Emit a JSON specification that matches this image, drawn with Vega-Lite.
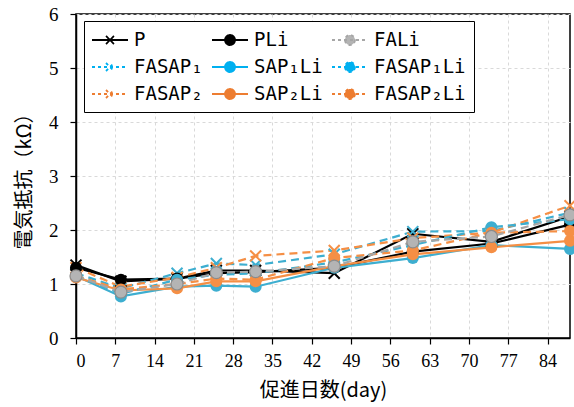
{
  "$schema": "https://vega.github.io/schema/vega-lite/v6.json",
  "width": 494,
  "height": 324,
  "autosize": "none",
  "padding": {"left": 76, "top": 14, "right": 4, "bottom": 69},
  "background": "white",
  "config": {
    "view": {"stroke": "#000000", "strokeWidth": 1.5},
    "axis": {
      "domainColor": "#000000", "domainWidth": 1.5, "tickColor": "#000000", "tickWidth": 1.2, "tickSize": 6,
      "gridColor": "#D9D9D9", "gridDash": [3, 3], "gridWidth": 1,
      "labelFont": "Liberation Sans Narrow", "labelFontSize": 19, "labelColor": "#000000",
      "titleFont": "Noto Sans CJK JP", "titleFontSize": 20, "titleFontWeight": "normal", "titleColor": "#000000"
    },
    "legend": {
      "orient": "none", "legendX": 8, "legendY": 7, "columns": 3, "title": null,
      "strokeColor": "#000000", "fillColor": "#FFFFFF", "padding": 8,
      "symbolSize": 400, "symbolStrokeWidth": 1.8, "columnPadding": 5, "rowPadding": 6,
      "labelFont": "DejaVu Sans Mono", "labelFontSize": 19, "labelColor": "#000000", "labelOffset": 20
    }
  },
  "data": {
    "values": [
      {"series": "P", "day": 0, "v": 1.35}, {"series": "P", "day": 8, "v": 1.05}, {"series": "P", "day": 18, "v": 1.1}, {"series": "P", "day": 25, "v": 1.25}, {"series": "P", "day": 32, "v": 1.25}, {"series": "P", "day": 46, "v": 1.2}, {"series": "P", "day": 60, "v": 1.93}, {"series": "P", "day": 74, "v": 1.78}, {"series": "P", "day": 88, "v": 2.25},
      {"series": "FASAP₁", "day": 0, "v": 1.2}, {"series": "FASAP₁", "day": 8, "v": 0.92}, {"series": "FASAP₁", "day": 18, "v": 1.2}, {"series": "FASAP₁", "day": 25, "v": 1.38}, {"series": "FASAP₁", "day": 32, "v": 1.35}, {"series": "FASAP₁", "day": 46, "v": 1.55}, {"series": "FASAP₁", "day": 60, "v": 1.97}, {"series": "FASAP₁", "day": 74, "v": 1.98}, {"series": "FASAP₁", "day": 88, "v": 2.32},
      {"series": "FASAP₂", "day": 0, "v": 1.3}, {"series": "FASAP₂", "day": 8, "v": 0.95}, {"series": "FASAP₂", "day": 18, "v": 1.12}, {"series": "FASAP₂", "day": 25, "v": 1.3}, {"series": "FASAP₂", "day": 32, "v": 1.52}, {"series": "FASAP₂", "day": 46, "v": 1.62}, {"series": "FASAP₂", "day": 60, "v": 1.85}, {"series": "FASAP₂", "day": 74, "v": 1.95}, {"series": "FASAP₂", "day": 88, "v": 2.45},
      {"series": "PLi", "day": 0, "v": 1.3}, {"series": "PLi", "day": 8, "v": 1.08}, {"series": "PLi", "day": 18, "v": 1.1}, {"series": "PLi", "day": 25, "v": 1.2}, {"series": "PLi", "day": 32, "v": 1.22}, {"series": "PLi", "day": 46, "v": 1.3}, {"series": "PLi", "day": 60, "v": 1.6}, {"series": "PLi", "day": 74, "v": 1.75}, {"series": "PLi", "day": 88, "v": 2.1},
      {"series": "SAP₁Li", "day": 0, "v": 1.15}, {"series": "SAP₁Li", "day": 8, "v": 0.77}, {"series": "SAP₁Li", "day": 18, "v": 0.95}, {"series": "SAP₁Li", "day": 25, "v": 0.97}, {"series": "SAP₁Li", "day": 32, "v": 0.95}, {"series": "SAP₁Li", "day": 46, "v": 1.3}, {"series": "SAP₁Li", "day": 60, "v": 1.48}, {"series": "SAP₁Li", "day": 74, "v": 1.72}, {"series": "SAP₁Li", "day": 88, "v": 1.65},
      {"series": "SAP₂Li", "day": 0, "v": 1.12}, {"series": "SAP₂Li", "day": 8, "v": 0.88}, {"series": "SAP₂Li", "day": 18, "v": 0.92}, {"series": "SAP₂Li", "day": 25, "v": 1.05}, {"series": "SAP₂Li", "day": 32, "v": 1.05}, {"series": "SAP₂Li", "day": 46, "v": 1.33}, {"series": "SAP₂Li", "day": 60, "v": 1.55}, {"series": "SAP₂Li", "day": 74, "v": 1.68}, {"series": "SAP₂Li", "day": 88, "v": 1.8},
      {"series": "FASAP₁Li", "day": 0, "v": 1.15}, {"series": "FASAP₁Li", "day": 8, "v": 0.82}, {"series": "FASAP₁Li", "day": 18, "v": 1.08}, {"series": "FASAP₁Li", "day": 25, "v": 1.17}, {"series": "FASAP₁Li", "day": 32, "v": 1.2}, {"series": "FASAP₁Li", "day": 46, "v": 1.4}, {"series": "FASAP₁Li", "day": 60, "v": 1.72}, {"series": "FASAP₁Li", "day": 74, "v": 2.05}, {"series": "FASAP₁Li", "day": 88, "v": 2.2},
      {"series": "FASAP₂Li", "day": 0, "v": 1.15}, {"series": "FASAP₂Li", "day": 8, "v": 0.9}, {"series": "FASAP₂Li", "day": 18, "v": 1.0}, {"series": "FASAP₂Li", "day": 25, "v": 1.1}, {"series": "FASAP₂Li", "day": 32, "v": 1.08}, {"series": "FASAP₂Li", "day": 46, "v": 1.48}, {"series": "FASAP₂Li", "day": 60, "v": 1.62}, {"series": "FASAP₂Li", "day": 74, "v": 1.95}, {"series": "FASAP₂Li", "day": 88, "v": 1.98},
      {"series": "FALi", "day": 0, "v": 1.15}, {"series": "FALi", "day": 8, "v": 0.85}, {"series": "FALi", "day": 18, "v": 1.0}, {"series": "FALi", "day": 25, "v": 1.21}, {"series": "FALi", "day": 32, "v": 1.23}, {"series": "FALi", "day": 46, "v": 1.33}, {"series": "FALi", "day": 60, "v": 1.78}, {"series": "FALi", "day": 74, "v": 1.88}, {"series": "FALi", "day": 88, "v": 2.28}
    ]
  },
  "encoding": {
    "x": {"field": "day", "type": "quantitative",
      "scale": {"domain": [0, 88], "nice": false, "zero": false},
      "axis": {"values": [0, 7, 14, 21, 28, 35, 42, 49, 56, 63, 70, 77, 84], "title": "促進日数(day)", "labelPadding": 8, "titlePadding": 10, "labelOverlap": false, "labelFontSize": 18}},
    "y": {"field": "v", "type": "quantitative",
      "scale": {"domain": [0, 6], "nice": false},
      "axis": {"values": [0, 1, 2, 3, 4, 5, 6], "title": "電気抵抗（kΩ）", "labelPadding": 12, "titlePadding": 14}}
  },
  "layer": [
    {
      "mark": {"type": "point", "opacity": 0},
      "encoding": {
        "fill": {"field": "series", "type": "nominal",
          "scale": {
            "domain": ["P", "FASAP₁", "FASAP₂", "PLi", "SAP₁Li", "SAP₂Li", "FALi", "FASAP₁Li", "FASAP₂Li"],
            "range": ["#000000", "#00B0F0", "#ED7D31", "#000000", "#00B0F0", "#ED7D31", "#B4B4B4", "#00B0F0", "#ED7D31"]
          },
          "legend": {
            "labelExpr": "datum.label == 'PLi' ? '\u00a0\u00a0PLi' : datum.label",
            "encode": {"symbols": {"update": {"opacity": {"value": 1}}}}}},
        "stroke": {"field": "series", "type": "nominal",
          "scale": {
            "domain": ["P", "FASAP₁", "FASAP₂", "PLi", "SAP₁Li", "SAP₂Li", "FALi", "FASAP₁Li", "FASAP₂Li"],
            "range": ["#000000", "#00B0F0", "#ED7D31", "#000000", "#00B0F0", "#ED7D31", "#A6A6A6", "#00B0F0", "#ED7D31"]
          }},
        "shape": {"field": "series", "type": "nominal",
          "scale": {
            "domain": ["P", "FASAP₁", "FASAP₂", "PLi", "SAP₁Li", "SAP₂Li", "FALi", "FASAP₁Li", "FASAP₂Li"],
            "range": [
              "M-1.1,0H2.5M0.3,-0.4L1.1,0.4M0.3,0.4L1.1,-0.4",
              "M-1.1,0H2.5M0.3,-0.4L1.1,0.4M0.3,0.4L1.1,-0.4",
              "M-1.1,0H2.5M0.3,-0.4L1.1,0.4M0.3,0.4L1.1,-0.4",
              "M-1.1,0H2.5M1.2,0A0.5,0.5,0,1,1,0.2,0A0.5,0.5,0,1,1,1.2,0Z",
              "M-1.1,0H2.5M1.2,0A0.5,0.5,0,1,1,0.2,0A0.5,0.5,0,1,1,1.2,0Z",
              "M-1.1,0H2.5M1.2,0A0.5,0.5,0,1,1,0.2,0A0.5,0.5,0,1,1,1.2,0Z",
              "M-1.1,0H2.5M1.2,0A0.5,0.5,0,1,1,0.2,0A0.5,0.5,0,1,1,1.2,0Z",
              "M-1.1,0H2.5M1.2,0A0.5,0.5,0,1,1,0.2,0A0.5,0.5,0,1,1,1.2,0Z",
              "M-1.1,0H2.5M1.2,0A0.5,0.5,0,1,1,0.2,0A0.5,0.5,0,1,1,1.2,0Z"
            ]
          }},
        "strokeDash": {"field": "series", "type": "nominal",
          "scale": {
            "domain": ["P", "FASAP₁", "FASAP₂", "PLi", "SAP₁Li", "SAP₂Li", "FALi", "FASAP₁Li", "FASAP₂Li"],
            "range": [[1, 0], [3, 3], [3, 3], [1, 0], [1, 0], [1, 0], [3, 3], [3, 3], [3, 3]]
          }}
      }
    },
    {
      "transform": [{"filter": {"field": "series", "oneOf": ["P", "PLi", "SAP₁Li", "SAP₂Li"]}}],
      "mark": {"type": "line", "strokeWidth": 2.2},
      "encoding": {
        "color": {"field": "series", "type": "nominal", "legend": null,
          "scale": {
            "domain": ["P", "PLi", "FALi", "FASAP₁", "SAP₁Li", "FASAP₁Li", "FASAP₂", "SAP₂Li", "FASAP₂Li"],
            "range": ["#000000", "#000000", "#A6A6A6", "#3DAED0", "#3DAED0", "#3DAED0", "#F58F45", "#F58F45", "#F58F45"]
          }}
      }
    },
    {
      "transform": [{"filter": {"field": "series", "oneOf": ["FASAP₁", "FASAP₂", "FASAP₁Li", "FASAP₂Li", "FALi"]}}],
      "mark": {"type": "line", "strokeWidth": 2.2, "strokeDash": [8, 5]},
      "encoding": {
        "color": {"field": "series", "type": "nominal", "legend": null}
      }
    },
    {
      "transform": [{"filter": {"field": "series", "oneOf": ["P", "FASAP₁", "FASAP₂"]}}],
      "mark": {"type": "point", "shape": "M-1,-1L1,1M-1,1L1,-1", "filled": false, "size": 120, "strokeWidth": 2, "opacity": 1},
      "encoding": {
        "color": {"field": "series", "type": "nominal", "legend": null}
      }
    },
    {
      "transform": [{"filter": {"field": "series", "oneOf": ["PLi", "SAP₁Li", "SAP₂Li", "FASAP₁Li", "FASAP₂Li"]}}],
      "mark": {"type": "point", "shape": "circle", "filled": true, "size": 145, "opacity": 1},
      "encoding": {
        "color": {"field": "series", "type": "nominal", "legend": null}
      }
    },
    {
      "transform": [{"filter": {"field": "series", "equal": "FALi"}}],
      "mark": {"type": "point", "shape": "circle", "filled": true, "size": 145, "opacity": 1, "fill": "#B4B4B4", "stroke": "#8C8C8C", "strokeWidth": 1.2}
    }
  ]
}
